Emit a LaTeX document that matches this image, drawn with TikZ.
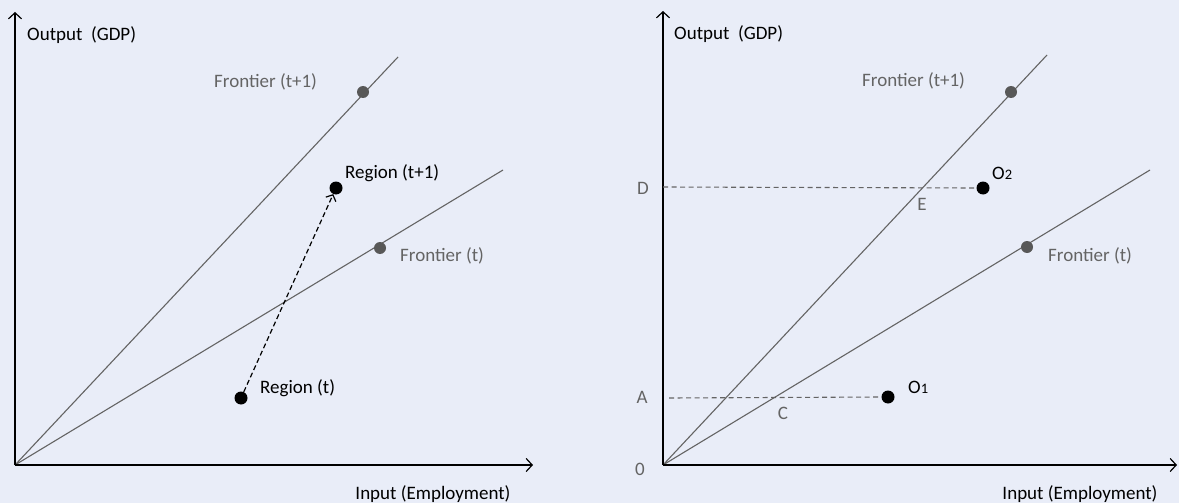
\documentclass[tikz,border=0pt]{standalone}
\usepackage{fontspec}
\setmainfont{Carlito}
\usetikzlibrary{arrows.meta}
\definecolor{bgcol}{RGB}{233,237,248}
\definecolor{frontgray}{RGB}{100,100,100}
\definecolor{dotgray}{RGB}{88,88,88}
\begin{document}
\begin{tikzpicture}[x=1pt,y=-1pt,
  axis/.style={line width=1.2pt, -{Straight Barb[length=6pt,width=13pt,line width=1.2pt]}},
  frontier/.style={draw=frontgray, line width=1.1pt},
  guide/.style={draw=frontgray, line width=1.1pt, dash pattern=on 5pt off 3.5pt},
  move/.style={line width=1.2pt, dash pattern=on 5pt off 3pt, -{Straight Barb[length=5pt,width=11pt,line width=1.2pt]}},
  fdot/.style={circle, fill=dotgray, inner sep=0pt, minimum size=12pt},
  rdot/.style={circle, fill=black, inner sep=0pt, minimum size=13pt},
  lbl/.style={font=\fontsize{19}{22}\selectfont, inner sep=0pt, anchor=west},
  glbl/.style={lbl, text=frontgray},
]
\fill[bgcol] (0,0) rectangle (1179,503);
\useasboundingbox (0,0) rectangle (1179,503);

% ---------- left panel: movement of a region between frontiers ----------
\coordinate (L0) at (15,465);
\coordinate (Ltop) at (15,12);
\coordinate (Lright) at (533,465);
\coordinate (LF1end) at (398,57);
\coordinate (LF0end) at (503,170);

\draw[frontier] (L0) -- (LF1end);
\draw[frontier] (L0) -- (LF0end);
\draw[axis] (L0) -- (Ltop);
\draw[axis] (L0) -- (Lright);

\node[fdot] (LF1dot) at (363,92) {};
\node[fdot] (LF0dot) at (380,248) {};
\node[rdot] (Rt) at (241,398) {};
\node[rdot] (Rt1) at (336,188) {};
\draw[move] (Rt) -- (Rt1);

\node[lbl] (Lylab) at (27,35) {Output\ \ (GDP)};
\node[lbl, anchor=center] (Lxlab) at (433,494) {Input (Employment)};
\node[glbl] (LF1lab) at (214,82) {Frontier (t+1)};
\node[glbl] (LF0lab) at (400,256) {Frontier (t)};
\node[lbl] (Rt1lab) at (345,173) {Region (t+1)};
\node[lbl] (Rtlab) at (260,388) {Region (t)};

% ---------- right panel: distances to the frontiers ----------
\coordinate (R0) at (663,465);
\coordinate (Rtop) at (663,11);
\coordinate (Rright) at (1177,465);
\coordinate (RF1end) at (1047,55);
\coordinate (RF0end) at (1150,170);

\draw[frontier] (R0) -- (RF1end);
\draw[frontier] (R0) -- (RF0end);
\draw[axis] (R0) -- (Rtop);
\draw[axis] (R0) -- (Rright);

\node[fdot] (RF1dot) at (1011,92) {};
\node[fdot] (RF0dot) at (1027,247) {};
\node[rdot] (O1) at (888,397) {};
\node[rdot] (O2) at (983,188) {};

\coordinate (Aax) at (669,398);
\coordinate (Dax) at (663,187);
\draw[guide] (Dax) -- (O2.west);
\draw[guide] (Aax) -- (O1.west);

\node[lbl] (Rylab) at (674,34) {Output\ \ (GDP)};
\node[lbl, anchor=center] (Rxlab) at (1080,494) {Input (Employment)};
\node[glbl] (RF1lab) at (862,81) {Frontier (t+1)};
\node[glbl] (RF0lab) at (1048,256) {Frontier (t)};
\node[lbl] (O2lab) at (992,173) {O{\fontsize{14.5}{14}\selectfont 2}};
\node[lbl] (O1lab) at (908,387) {O{\fontsize{14.5}{14}\selectfont 1}};
\node[glbl, anchor=center] (Dlab) at (643,188) {D};
\node[glbl, anchor=center] (Alab) at (642,397) {A};
\node[glbl, anchor=center] (Zlab) at (640,469) {0};
\node[glbl, anchor=center] (Elab) at (922,204) {E};
\node[glbl, anchor=center] (Clab) at (783,413) {C};
\end{tikzpicture}
\end{document}
